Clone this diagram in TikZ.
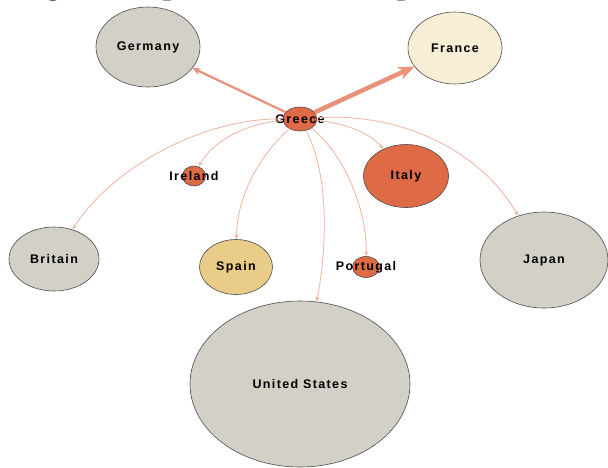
\documentclass[tikz,border=0pt]{standalone}
\usepackage{fontspec}
\setmainfont{Liberation Sans}
\newfontfamily\titlefont{Liberation Serif}
\newfontfamily\labfont[LetterSpace=11]{Liberation Sans}
\usetikzlibrary{shapes.geometric,arrows.meta}
\definecolor{redn}{HTML}{DE6B45}
\definecolor{grayn}{HTML}{D3D1C7}
\definecolor{cream}{HTML}{F8EDD5}
\definecolor{sand}{HTML}{E9CC87}
\definecolor{edgec}{HTML}{F0B5A0}
\definecolor{strongedge}{HTML}{E8927A}
\begin{document}
\begin{tikzpicture}[x=1pt,y=-1pt,
  country/.style={ellipse, draw=black!70, line width=0.6pt, inner sep=0pt},
  lab/.style={font=\labfont\bfseries\fontsize{12.5}{14}\selectfont, text=black},
  edge/.style={draw=edgec, line width=0.8pt, -{Stealth[length=5pt,width=4pt]}},
  strongA/.style={draw=strongedge, line width=2.2pt, -{Stealth[length=8pt,width=7pt]}},
  strongB/.style={draw=strongedge, line width=4.5pt, -{Stealth[length=16pt,width=13pt]}}
]
\useasboundingbox (0,0) rectangle (608,467);
\fill[white] (0,0) rectangle (608,467);
\begin{scope}
\clip (0,0) rectangle (608,467);
\node[anchor=base west, inner sep=0pt, font=\titlefont\bfseries\fontsize{30}{36}\selectfont] (title) at (19,-6) {Figure 1: Spillover effects on peer countries};
\end{scope}

\node[country, fill=grayn, minimum width=104pt, minimum height=80pt, label={[lab]center:Germany}] (germany) at (148,47) {};
\node[country, fill=cream, minimum width=94pt, minimum height=72pt, label={[lab]center:France}] (france) at (455,48) {};
\node[country, fill=redn, minimum width=34pt, minimum height=24pt, label={[lab]center:Greece}] (greece) at (300,119) {};
\node[country, fill=redn, minimum width=23pt, minimum height=20pt, label={[lab]center:Ireland}] (ireland) at (194,176) {};
\node[country, fill=redn, minimum width=85pt, minimum height=63pt, label={[lab]center:Italy}] (italy) at (406,176) {};
\node[country, fill=grayn, minimum width=90pt, minimum height=64pt, label={[lab]center:Britain}] (britain) at (54,259) {};
\node[country, fill=sand, minimum width=73pt, minimum height=55pt, label={[lab]center:Spain}] (spain) at (236,267) {};
\node[country, fill=redn, minimum width=27pt, minimum height=21pt, label={[lab]center:Portugal}] (portugal) at (366,267) {};
\node[country, fill=grayn, minimum width=128pt, minimum height=96pt, label={[lab]center:Japan}] (japan) at (544,260) {};
\node[country, fill=grayn, minimum width=220pt, minimum height=166pt, label={[lab]center:United States}] (us) at (300,384) {};

\draw[strongA] (greece) -- (germany);
\draw[strongB] (greece) -- (france);
\draw[edge] (greece) .. controls (200,118) and (110,170) .. (britain);
\draw[edge] (greece) .. controls (240,124) and (210,145) .. (ireland);
\draw[edge] (greece) .. controls (255,160) and (237,200) .. (spain);
\draw[edge] (greece) .. controls (332,180) and (325,260) .. (us);
\draw[edge] (greece) .. controls (345,155) and (367,210) .. (portugal);
\draw[edge] (greece) .. controls (345,123) and (370,133) .. (italy);
\draw[edge] (greece) .. controls (400,112) and (480,150) .. (japan);
\end{tikzpicture}
\end{document}
